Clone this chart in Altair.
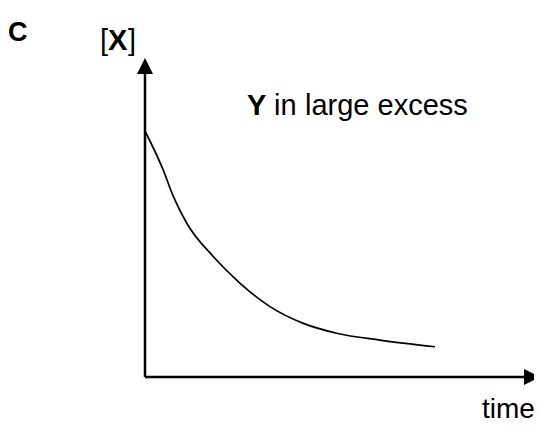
import altair as alt
import pandas as pd

# Curve
time_vals = [0.0, 0.63, 0.98, 1.44, 2.36, 3.28, 4.31, 5.46, 6.61, 8.10, 10.0]
x_vals = [1.0, 0.841, 0.733, 0.625, 0.489, 0.381, 0.286, 0.218, 0.178, 0.150, 0.123]

# Axis extents (data units)
x_axis_end = 13.3
y_axis_end = 1.26
x_arrow_pos = 13.345
y_arrow_pos = 1.264

W, H = 526, 416
PX_T = 29.0    # pixels per time unit
PX_C = 246.0   # pixels per [X] unit
T_DOM = [-(145 - 8) / PX_T, -(145 - 8) / PX_T + W / PX_T]
Y_DOM = [(377 - 8) / PX_C - H / PX_C, (377 - 8) / PX_C]

FONT = "Liberation Sans"

xs = alt.Scale(domain=T_DOM, nice=False, zero=False)
ys = alt.Scale(domain=Y_DOM, nice=False, zero=False)

curve_df = pd.DataFrame({"t": time_vals, "c": x_vals})
curve = alt.Chart(curve_df).mark_line(color="black", strokeWidth=1.7, interpolate="monotone").encode(
    x=alt.X("t:Q", scale=xs, axis=None),
    y=alt.Y("c:Q", scale=ys, axis=None),
)

xaxis_df = pd.DataFrame({"t": [0.0, x_axis_end], "c": [0.0, 0.0]})
xaxis = alt.Chart(xaxis_df).mark_line(color="black", strokeWidth=2.5).encode(
    x=alt.X("t:Q", scale=xs, axis=None), y=alt.Y("c:Q", scale=ys, axis=None)
)
yaxis_df = pd.DataFrame({"t": [0.0, 0.0], "c": [0.0, y_axis_end]})
yaxis = alt.Chart(yaxis_df).mark_line(color="black", strokeWidth=2.5).encode(
    x=alt.X("t:Q", scale=xs, axis=None), y=alt.Y("c:Q", scale=ys, axis=None)
)

xarrow = alt.Chart(pd.DataFrame({"t": [x_arrow_pos], "c": [0.0]})).mark_point(
    shape="M1,0L-1,-1L-1,1Z", size=256, filled=True, color="black", opacity=1, strokeWidth=0
).encode(x=alt.X("t:Q", scale=xs, axis=None), y=alt.Y("c:Q", scale=ys, axis=None))
yarrow = alt.Chart(pd.DataFrame({"t": [0.0], "c": [y_arrow_pos]})).mark_point(
    shape="M0,-1L1,1L-1,1Z", size=256, filled=True, color="black", opacity=1, strokeWidth=0
).encode(x=alt.X("t:Q", scale=xs, axis=None), y=alt.Y("c:Q", scale=ys, axis=None))

def label(text, x, y, bold=False, size=28):
    return alt.Chart(pd.DataFrame({"s": [text]})).mark_text(
        align="left", baseline="alphabetic", font=FONT, fontSize=size,
        fontWeight="bold" if bold else "normal", color="black"
    ).encode(text="s:N", x=alt.value(x - 8), y=alt.value(y - 8))

texts = [
    label("C", 8, 41, bold=True, size=27),
    label("[", 100, 50, size=29),
    label("X", 108, 50, bold=True, size=29),
    label("]", 128, 50, size=29),
    label("Y", 247, 115, bold=True, size=29),
    label("in", 274, 115, size=29),
    label("large excess", 305, 115, size=29),
    label("time", 482, 418, size=28),
]

chart = alt.layer(xaxis, yaxis, xarrow, yarrow, curve, *texts).properties(
    width=W, height=H, padding=0, autosize=alt.AutoSizeParams(type="none")
).configure_view(stroke=None)

chart.save("out.html", embed_options={"renderer": "svg", "actions": False})
